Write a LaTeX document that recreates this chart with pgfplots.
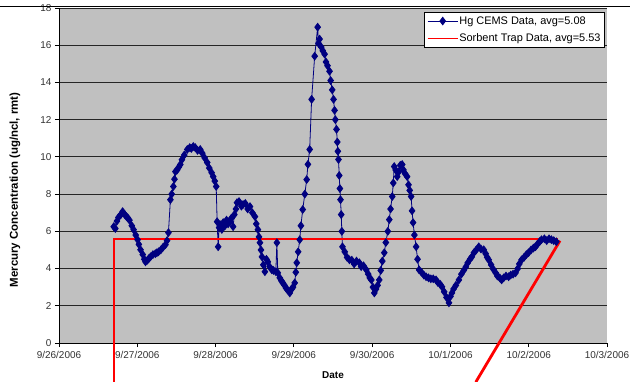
\documentclass[border=0pt]{standalone}
\usepackage{pgfplots}
\pgfplotsset{compat=1.18}
\usepackage{fontspec}
\setmainfont{Liberation Sans}
\definecolor{navyb}{RGB}{0,0,128}
\definecolor{plotgray}{RGB}{192,192,192}
\begin{document}
\begin{tikzpicture}
\useasboundingbox (0,0) rectangle (634bp,382bp);
\fill[white] (0,0) rectangle (634bp,382bp);
\begin{axis}[at={(59bp,39bp)}, anchor=south west, scale only axis,
 width=548bp, height=335bp,
 xmin=0, xmax=7, ymin=0, ymax=18,
 xtick={0,1,2,3,4,5,6,7},
 xticklabels={9/26/2006,9/27/2006,9/28/2006,9/29/2006,9/30/2006,10/1/2006,10/2/2006,10/3/2006},
 ytick={0,2,...,18},
 ymajorgrids, grid style={black!85, line width=0.9bp},
 axis background/.style={fill=plotgray},
 axis lines=left, axis line style={-, black, line width=0.9bp},
 tick align=outside, major tick length=4bp, tick style={black, line width=0.9bp},
 ticklabel style={font=\fontsize{10}{11}\selectfont, text=black!80},
 xticklabel style={yshift=-1bp},
 /pgf/number format/assume math mode=true,
 xlabel={\textbf{Date}}, ylabel={\textbf{Mercury Concentration (ug/ncl, rmt)}},
 xlabel style={font=\fontsize{10}{11}\selectfont, at={(rel axis cs:0.5,0)}, anchor=center, yshift=-32bp},
 ylabel style={font=\fontsize{11.5}{12}\selectfont, at={(rel axis cs:0,0.457)}, anchor=center, yshift=44bp},
 clip=false,
 legend style={at={(0.9964,0.988)}, anchor=north east, font=\fontsize{11}{12}\selectfont,
   draw=black, line width=0.9bp, fill=white, cells={anchor=west}, row sep=6bp, inner sep=3bp,
   nodes={inner sep=1bp}},
 legend cell align=left,
 legend image code/.code={\draw[mark repeat=2,mark phase=2,#1] plot coordinates {(0bp,0bp) (15bp,0bp) (30bp,0bp)};},
]
\addplot[navyb, line width=0.8bp, mark=diamond*, mark size=3.8bp, mark options={fill=navyb, draw=navyb}] coordinates {
(0.699,6.25)(0.72,6.15)(0.74,6.55)(0.76,6.75)(0.79,6.9)(0.813,7.06)(0.84,6.9)(0.86,6.8)(0.877,6.73)(0.90,6.6)(0.93,6.3)(0.953,6.09)(0.98,5.8)(1.004,5.55)(1.02,5.3)(1.042,5.01)(1.07,4.75)(1.09,4.5)(1.105,4.36)(1.13,4.45)(1.15,4.55)(1.169,4.63)(1.20,4.75)(1.23,4.8)(1.25,4.85)(1.271,4.90)(1.30,5.0)(1.33,5.15)(1.360,5.28)(1.38,5.5)(1.398,5.93)
(1.423,7.70)(1.44,8.0)(1.461,8.41)(1.475,8.8)(1.487,9.21)(1.51,9.3)(1.53,9.45)(1.550,9.59)(1.57,9.85)(1.60,10.1)(1.639,10.40)(1.67,10.5)(1.69,10.45)(1.715,10.56)(1.74,10.5)(1.77,10.35)(1.804,10.40)(1.83,10.2)(1.86,9.95)(1.893,9.70)(1.92,9.4)(1.95,9.15)(1.970,8.94)(1.99,8.7)(2.008,8.41)
(2.020,6.52)(2.033,5.17)(2.045,6.2)(2.058,6.36)(2.08,6.1)(2.097,6.47)(2.12,6.3)(2.14,6.6)(2.16,6.4)(2.186,6.52)(2.20,6.7)(2.224,6.25)(2.24,6.9)(2.26,7.2)(2.274,7.54)(2.30,7.6)(2.33,7.35)(2.351,7.44)(2.38,7.5)(2.41,7.2)(2.440,7.33)(2.47,7.0)(2.503,6.79)(2.52,6.4)(2.541,6.09)(2.555,5.7)(2.567,5.39)(2.58,5.0)(2.592,4.63)(2.61,4.2)(2.630,3.83)(2.65,4.5)(2.668,4.36)(2.69,4.1)(2.719,3.93)(2.74,3.9)(2.770,3.83)(2.783,5.39)(2.795,3.77)(2.82,3.5)(2.84,3.35)(2.859,3.23)(2.88,3.1)(2.90,2.95)(2.92,2.85)(2.948,2.69)(2.97,2.9)(2.99,3.0)(3.011,3.23)(3.025,3.8)(3.037,4.31)(3.055,4.9)(3.075,5.55)(3.09,6.3)(3.113,7.17)(3.14,8.0)(3.164,8.78)(3.18,9.6)(3.202,10.40)
(3.227,13.09)(3.266,15.41)(3.304,16.97)(3.315,16.1)(3.329,16.33)(3.35,15.9)(3.37,15.7)(3.393,15.52)(3.41,15.1)(3.43,14.9)(3.456,14.60)(3.47,14.1)(3.49,13.6)(3.507,13.09)(3.52,12.5)(3.53,12.0)(3.545,11.48)(3.555,10.8)(3.562,10.3)(3.570,9.86)(3.58,9.0)(3.588,8.3)(3.596,7.70)(3.605,6.9)(3.613,6.0)(3.621,5.17)(3.65,4.9)(3.68,4.6)(3.710,4.47)(3.74,4.45)(3.77,4.25)(3.80,4.4)(3.837,4.31)(3.86,4.1)(3.89,4.15)(3.926,3.93)(3.95,3.7)(3.97,3.5)(3.990,3.39)(4.01,3.0)(4.028,2.69)(4.05,2.9)(4.07,3.1)(4.091,3.39)(4.11,3.9)(4.13,4.4)(4.155,4.85)(4.175,5.4)(4.20,6.0)(4.219,6.63)(4.235,7.2)(4.257,7.87)(4.27,8.6)(4.282,9.48)(4.30,9.3)(4.320,8.94)(4.34,9.2)(4.36,9.55)(4.384,9.59)(4.40,9.3)(4.42,9.1)(4.447,8.94)(4.465,8.5)(4.48,8.2)(4.498,7.87)(4.51,7.1)(4.523,6.47)(4.54,5.8)(4.562,5.17)(4.58,4.5)(4.600,3.93)
(4.63,3.8)(4.66,3.65)(4.689,3.56)(4.72,3.5)(4.75,3.45)(4.78,3.45)(4.816,3.39)(4.84,3.25)(4.87,3.15)(4.892,3.02)(4.92,2.75)(4.95,2.45)(4.981,2.16)(5.00,2.5)(5.019,2.69)(5.04,2.9)(5.07,3.1)(5.108,3.39)(5.14,3.7)(5.17,3.9)(5.197,4.09)(5.22,4.3)(5.25,4.5)(5.273,4.63)(5.30,4.85)(5.33,5.0)(5.362,5.17)(5.39,5.05)(5.426,5.01)(5.45,4.8)(5.47,4.6)(5.489,4.47)(5.52,4.2)(5.55,3.95)(5.578,3.77)(5.60,3.6)(5.63,3.5)(5.654,3.39)(5.68,3.5)(5.71,3.6)(5.743,3.56)(5.77,3.65)(5.80,3.7)(5.832,3.77)(5.86,4.0)(5.88,4.25)(5.909,4.47)(5.94,4.6)(5.97,4.75)(5.997,4.85)(6.03,5.0)(6.06,5.1)(6.086,5.17)(6.11,5.3)(6.14,5.45)(6.163,5.55)(6.20,5.6)(6.23,5.5)(6.26,5.6)(6.290,5.55)(6.32,5.5)(6.353,5.44)
};
\addlegendentry{Hg CEMS Data, avg=5.08}
\addplot[red, line width=1.2bp, mark=none] coordinates {(0.703,5.59) (6.38,5.59)};
\addlegendentry{Sorbent Trap Data, avg=5.53}
\addplot[red, line width=2.8bp, forget plot] coordinates {(0.703,-2.1) (0.703,5.65)};
\addplot[red, line width=2.8bp, forget plot] coordinates {(6.40,5.50) (5.324,-2.1)};
\end{axis}
\draw[black, line width=1bp] (0,375bp) -- (630bp,375bp);
\end{tikzpicture}
\end{document}
